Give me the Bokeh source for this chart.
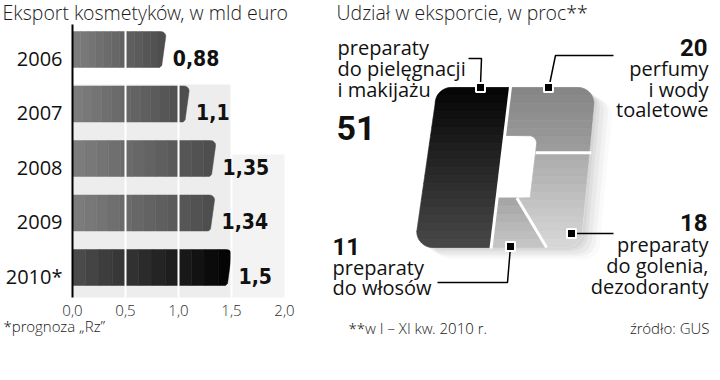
import numpy as np
from bokeh.plotting import figure
from bokeh.layouts import row
from bokeh.models import Range1d
from bokeh.core.properties import value
from bokeh.embed import file_html
from bokeh.resources import INLINE

# ---------------- data ----------------
years = ["2006", "2007", "2008", "2009", "2010*"]
export_values = [0.88, 1.1, 1.35, 1.34, 1.5]
export_labels = ["0,88", "1,1", "1,35", "1,34", "1,5"]
x_ticks = [0.0, 0.5, 1.0, 1.5, 2.0]
x_tick_labels = ["0,0", "0,5", "1,0", "1,5", "2,0"]

share_names = ["preparaty do pielęgnacji i makijażu", "perfumy i wody toaletowe",
               "preparaty do golenia, dezodoranty", "preparaty do włosów"]
share_values = [51, 20, 18, 11]
share_labels = ["51", "20", "18", "11"]

# ---------------- fonts ----------------
LIGHT = value("'Open Sans Light', 'Lato Light', 'Open Sans', sans-serif")
REG = value("'Open Sans', sans-serif")
BOLD_C = value("'DejaVu Sans Condensed', 'DejaVu Sans', sans-serif")
BOLD_N = value("Roboto, sans-serif")
INK = "#111111"

# page origin of the figures (measured)
OX, OY = 0, 8
FIG_H = 364


def hexmix(c1, c2, t):
    a = [int(c1[i:i + 2], 16) for i in (1, 3, 5)]
    b = [int(c2[i:i + 2], 16) for i in (1, 3, 5)]
    return "#%02x%02x%02x" % tuple(int(round(x + (y - x) * t)) for x, y in zip(a, b))


# ================= left: bar chart =================
W1 = 318
PX0, PSX = 72.0, 106.0      # page x of value 0, px per unit
PY0, PSY = 57.0, 54.5       # page y of first row, px per row


def dx(px):
    return (px - PX0) / PSX


def dy(py):
    return (py - PY0) / PSY


p1 = figure(width=W1, height=FIG_H, output_backend="svg", toolbar_location=None,
            x_range=Range1d(dx(OX), dx(OX + W1)), y_range=Range1d(dy(OY + FIG_H), dy(OY)),
            min_border=0, title=None)
p1.outline_line_color = None
p1.grid.visible = False
p1.axis.visible = False

# light backdrop
p1.quad(left=[0, x_ticks[3]], right=[x_ticks[3], x_ticks[4]],
        top=[dy(92), dy(162)], bottom=[dy(305), dy(305)],
        fill_color=["#ededed", "#f3f3f3"], line_color=None)

# bars with stepped gradient and a rounded, slanted end
N = 12
BH = 0.66
ys = list(range(len(years)))
for i, v in enumerate(export_values):
    if i == len(export_values) - 1:
        c1, c2 = "#4a4a4a", "#050505"
    else:
        c1, c2 = "#7c7c7c", "#4e4e4e"
    lefts = [v * k / N for k in range(N - 1)]
    rights = [v * (k + 1) / N for k in range(N - 1)]
    cols = [hexmix(c1, c2, k / (N - 1)) for k in range(N - 1)]
    p1.hbar(y=[i] * (N - 1), left=lefts, right=rights, height=BH,
            fill_color=cols, line_color=cols, line_width=0.5)
    # end cap
    x_start = v * (N - 1) / N
    yt, yb = i - BH / 2, i + BH / 2
    r, s, r2 = 5.0, 4.0, 2.0          # px: corner radius, slant, small radius
    cx = [x_start]
    cy = [yt]
    for a in np.linspace(np.pi / 2, 0, 8):
        cx.append(v - (r - r * np.cos(a)) / PSX)
        cy.append(yt + (r - r * np.sin(a)) / PSY)
    cx += [v - s / PSX, v - (s + r2) / PSX, x_start]
    cy += [yb - r2 / PSY, yb, yb]
    p1.patch(cx, cy, fill_color=c2, line_color=c2, line_width=0.5)

# white grid lines over bars
inner = x_ticks[1:-1]
p1.segment(x0=inner, x1=inner, y0=[dy(36)] * len(inner), y1=[dy(305)] * len(inner),
           line_color="white", line_width=2)

# axis line
p1.segment(x0=[0], x1=[0], y0=[dy(32)], y1=[dy(305)], line_color="black", line_width=2)

# x tick labels
p1.text(x=x_ticks, y=[dy(318)] * len(x_ticks), text=x_tick_labels,
        text_align="center", text_baseline="alphabetic",
        text_font=LIGHT, text_font_size="15px", text_color="#333333")

# year labels
p1.text(x=[0] * len(years), y=[i + 9 / PSY for i in ys], text=years,
        x_offset=-10, text_align="right", text_baseline="alphabetic",
        text_font=REG, text_font_size="20px", text_color=INK)

# value labels
p1.text(x=export_values, y=[i + 8 / PSY for i in ys], text=export_labels,
        x_offset=7, text_align="left", text_baseline="alphabetic",
        text_font=BOLD_C, text_font_style="bold", text_font_size="21px", text_color=INK)

# title and footnote
p1.text(x=[dx(2)], y=[dy(20)], text=["Eksport kosmetyków, w mld euro"],
        text_align="left", text_baseline="alphabetic",
        text_font=LIGHT, text_font_size="19.5px", text_color="#1a1a1a")
p1.text(x=[dx(3)], y=[dy(333)], text=["*prognoza „Rz”"],
        text_align="left", text_baseline="alphabetic",
        text_font=LIGHT, text_font_size="15px", text_color="#222222")

# ================= right: "R" share pictogram =================
W2 = 394
p2 = figure(width=W2, height=FIG_H, output_backend="svg", toolbar_location=None,
            x_range=Range1d(OX + W1, OX + W1 + W2), y_range=Range1d(OY + FIG_H, OY),
            min_border=0, title=None)
p2.outline_line_color = None
p2.grid.visible = False
p2.axis.visible = False

top, bot = 95.0, 255.0
H = bot - top
R = 16.0


def xl_edge(y):
    return 437 - (y - top) * 23 / H


def xr_edge(y):
    return 595 - (y - top) * 15 / H


def left_round(y):
    if y < top + R:
        cx, cy = xl_edge(top + R) + R, top + R
        return cx - np.sqrt(max(R * R - (cy - y) ** 2, 0))
    if y > bot - R:
        cx, cy = xl_edge(bot - R) + R, bot - R
        return cx - np.sqrt(max(R * R - (y - cy) ** 2, 0))
    return xl_edge(y)


def right_round(y):
    if y < top + R:
        cx, cy = xr_edge(top + R) - R, top + R
        return cx + np.sqrt(max(R * R - (cy - y) ** 2, 0))
    if y > bot - R:
        cx, cy = xr_edge(bot - R) - R, bot - R
        return cx + np.sqrt(max(R * R - (y - cy) ** 2, 0))
    return xr_edge(y)


total = float(sum(share_values))
hole_frac = 0.095
u_div = share_values[0] / total * (1 - hole_frac)


def div(y):
    return xl_edge(y) + u_div * (xr_edge(y) - xl_edge(y))


hole_top = top + 0.30 * H
hole_bot = top + 0.69 * H
hole_w = 33.0
hr = 8.0


def hole_right(y):
    if y < hole_top + hr:
        cx, cy = div(hole_top + hr) + hole_w - hr, hole_top + hr
        return cx + np.sqrt(max(hr * hr - (cy - y) ** 2, 0))
    return div(y) + hole_w


rest = float(sum(share_values[1:]))
y_line = top + H * share_values[1] / rest
d_x0, d_y0 = div(hole_bot) + 0.6 * hole_w, hole_bot
d_x1 = div(bot) + (xr_edge(bot) - div(bot)) * share_values[2] / (share_values[2] + share_values[3])
d_y1 = bot


def diag(y):
    t = (y - d_y0) / (d_y1 - d_y0)
    return d_x0 + t * (d_x1 - d_x0)


def outline(y0, y1, fl, fr, n=40):
    yy = np.linspace(y0, y1, n)
    return [fl(y) for y in yy] + [fr(y) for y in yy[::-1]], list(yy) + list(yy[::-1])


def strips(y0, y1, fl, fr, c1, c2, band=8.0):
    n = max(int(round((y1 - y0) / band)), 1)
    xs_all, ys_all, cols = [], [], []
    for k in range(n):
        ya = y0 + (y1 - y0) * k / n
        yb = y0 + (y1 - y0) * (k + 1) / n
        xs, ys_ = outline(ya, yb, fl, fr, 24)
        xs_all.append(xs)
        ys_all.append(ys_)
        cols.append(hexmix(c1, c2, k / max(n - 1, 1)))
    return xs_all, ys_all, cols


# soft shadow
outer_x, outer_y = outline(top, bot, left_round, right_round, 80)
for (ox, oy, a) in [(18, 12, 0.02), (14, 9, 0.03), (10, 7, 0.035), (6, 4, 0.04), (3, 2, 0.04)]:
    p2.patch([x + ox for x in outer_x], [y + oy for y in outer_y],
             fill_color="black", fill_alpha=a, line_color=None)
# white base so the hole stays clean
p2.patch(outer_x, outer_y, fill_color="white", line_color="white", line_width=1)

regions = [
    (top, bot, left_round, div, "#060606", "#464646"),
    (top, y_line, lambda y: div(y) if y < hole_top else hole_right(y), right_round, "#868686", "#9c9c9c"),
    (y_line, bot, lambda y: hole_right(y) if y < hole_bot else diag(y), right_round, "#acacac", "#d6d6d6"),
    (hole_bot, bot, div, diag, "#a6a6a6", "#c4c4c4"),
]
for (y0, y1, fl, fr, c1, c2) in regions:
    xs, ys_, cols = strips(y0, y1, fl, fr, c1, c2)
    p2.patches(xs, ys_, fill_color=cols, line_color=cols, line_width=0.8)

# white separators
p2.segment(x0=[div(top - 1), hole_right(y_line), d_x0],
           y0=[top - 1, y_line, d_y0],
           x1=[div(bot + 1), xr_edge(y_line) + 2, d_x1],
           y1=[bot + 1, y_line, d_y1],
           line_color="white", line_width=3)

# leader lines
p2.line([468, 481, 480], [66, 66, 92], line_color="black", line_width=1.5)
p2.line([613, 555, 549], [63, 63, 92], line_color="black", line_width=1.5)
p2.line([571, 613], [241, 241], line_color="black", line_width=1.5)
p2.line([510, 507, 437], [254, 290, 290], line_color="black", line_width=1.5)
p2.scatter([480, 548, 571, 510], [95, 95, 241, 254], marker="square", size=9,
           fill_color="black", line_color="white", line_width=2)


def txt(p, x, y, s, size, font, style="normal", align="left", color=INK):
    p.text(x=[x], y=[y], text=[s], text_font=font, text_font_size=size,
           text_font_style=style, text_align=align, text_baseline="alphabetic",
           text_color=color)


txt(p2, 336, 20, "Udział w eksporcie, w proc**", "19.5px", LIGHT, color="#1a1a1a")

# 51 - left top
for k, s in enumerate(["preparaty", "do pielęgnacji", "i makijażu"]):
    txt(p2, 337, 55 + 21 * k, s, "20px", REG)
txt(p2, 336, 135, share_labels[0], "34px", BOLD_N, "bold")

# 20 - right top
txt(p2, 707, 55, share_labels[1], "24px", BOLD_N, "bold", "right")
for k, s in enumerate(["perfumy", "i wody", "toaletowe"]):
    txt(p2, 708, 76 + 20.5 * k, s, "20px", REG, align="right")

# 18 - right bottom
txt(p2, 707, 230, share_labels[2], "24px", BOLD_N, "bold", "right")
for k, s in enumerate(["preparaty", "do golenia,", "dezodoranty"]):
    txt(p2, 708, 252 + 21 * k, s, "20px", REG, align="right")

# 11 - left bottom
txt(p2, 332, 254, share_labels[3], "24px", BOLD_N, "bold")
for k, s in enumerate(["preparaty", "do włosów"]):
    txt(p2, 332, 275 + 20 * k, s, "20px", REG)

# footnotes
txt(p2, 348, 335, "**w I – XI kw. 2010 r.", "15px", LIGHT, color="#222222")
txt(p2, 709, 335, "źródło: GUS", "15px", LIGHT, align="right", color="#222222")

layout = row(p1, p2)
open("out.html", "w").write(file_html(layout, INLINE))
